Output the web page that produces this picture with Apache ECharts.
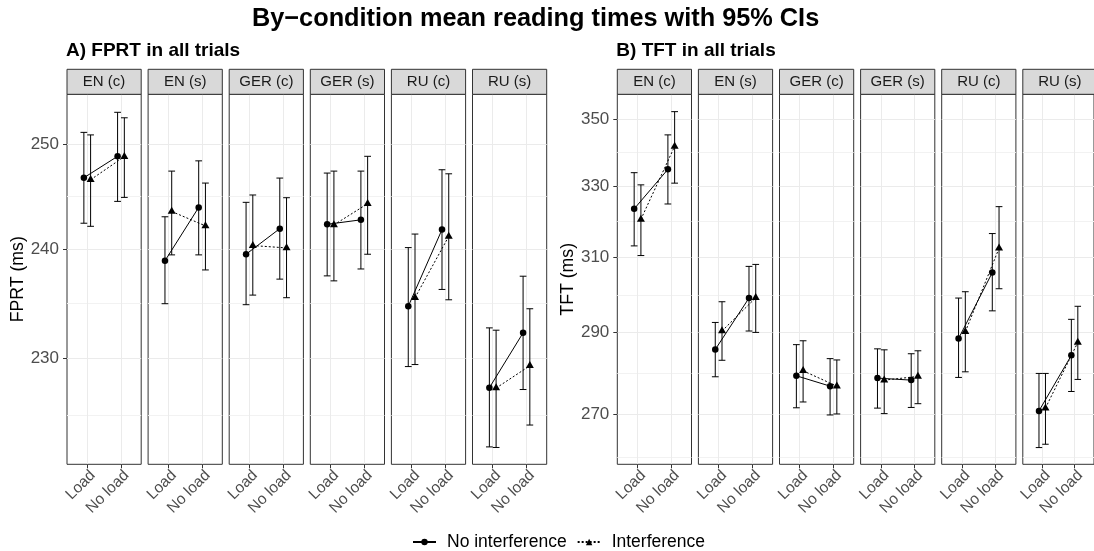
<!DOCTYPE html>
<html><head><meta charset="utf-8">
<script src="https://cdn.jsdelivr.net/npm/echarts@6/dist/echarts.min.js"></script>
<style>html,body{margin:0;padding:0;background:#fff}#c{width:1094px;height:551px}</style>
</head><body><div id="c"></div><script>
// ---------- data ----------
const facets = ['EN (c)', 'EN (s)', 'GER (c)', 'GER (s)', 'RU (c)', 'RU (s)'];
const loads = ['Load', 'No load'];
const seriesNames = ['No interference', 'Interference'];

// FPRT (ms): per facet [Load, No load]
const fprtNoIntMean = [[246.75, 248.82], [238.90, 243.92], [239.51, 241.91], [242.32, 242.74], [234.70, 241.82], [227.38, 232.29]];
const fprtNoIntLo   = [[242.42, 244.49], [234.94, 239.45], [234.85, 237.20], [237.50, 238.14], [229.26, 236.25], [222.20, 227.22]];
const fprtNoIntHi   = [[251.15, 253.12], [243.03, 248.38], [244.40, 246.72], [247.20, 247.39], [240.13, 247.52], [232.74, 237.47]];
const fprtIntMean   = [[246.56, 248.79], [243.53, 242.17], [240.32, 240.10], [242.26, 244.27], [235.49, 241.18], [227.35, 229.33]];
const fprtIntLo     = [[242.13, 244.87], [239.45, 238.05], [235.73, 235.49], [237.04, 239.51], [229.44, 235.30], [222.15, 224.10]];
const fprtIntHi     = [[250.90, 252.58], [247.39, 246.24], [245.10, 244.84], [247.39, 248.82], [241.40, 247.13], [232.53, 234.48]];

// TFT (ms)
const tftNoIntMean = [[323.40, 334.85], [285.76, 298.99], [279.22, 276.69], [278.65, 278.16], [288.53, 305.77], [270.73, 284.29]];
const tftNoIntLo   = [[313.03, 324.79], [278.98, 290.44], [271.47, 269.76], [271.39, 271.55], [278.82, 295.64], [262.13, 275.39]];
const tftNoIntHi   = [[333.86, 345.15], [292.64, 307.44], [286.98, 283.47], [285.92, 284.69], [298.99, 316.45], [279.80, 293.44]];
const tftIntMean   = [[320.43, 341.68], [290.44, 299.07], [280.45, 276.69], [278.16, 279.06], [290.26, 312.37], [271.39, 287.55]];
const tftIntLo     = [[310.38, 330.80], [283.06, 290.09], [272.86, 270.00], [270.08, 272.45], [280.20, 301.45], [262.90, 278.33]];
const tftIntHi     = [[330.30, 352.28], [298.02, 307.97], [287.96, 283.14], [285.67, 285.43], [300.66, 324.03], [279.80, 296.83]];

const fprtTicks = [230, 240, 250];
const tftTicks = [270, 290, 310, 330, 350];

// ---------- layout / style ----------
const FONT = 'Liberation Sans, Arial, sans-serif';
const PANEL_TOP = 94.3, PANEL_H = 370, PANEL_W = 74.2, STEP = 81.1, STRIP_H = 25;
const DODGE = 0.1;

const groups = [
  { axisName: 'FPRT (ms)', title: 'A) FPRT in all trials', x0: 67, min: 220.7, max: 254.9, ticks: fprtTicks,
    sets: [[fprtNoIntMean, fprtNoIntLo, fprtNoIntHi], [fprtIntMean, fprtIntLo, fprtIntHi]] },
  { axisName: 'TFT (ms)', title: 'B) TFT in all trials', x0: 617.3, min: 258.3, max: 357.7, ticks: tftTicks,
    sets: [[tftNoIntMean, tftNoIntLo, tftNoIntHi], [tftIntMean, tftIntLo, tftIntHi]] }
];

function minorOf(t) {
  const st = t[1] - t[0];
  const ext = [t[0] - st].concat(t, [t[t.length - 1] + st]);
  const out = [];
  for (let i = 0; i < ext.length - 1; i++) out.push(Math.sqrt(ext[i] * ext[i + 1]));
  return out;
}

const grids = [], xAxes = [], yAxes = [], lineSeries = [], barSeries = [], graphics = [];
const titles = [{
  text: 'By\u2212condition mean reading times with 95% CIs', left: 252, top: 7, padding: 0,
  textStyle: { fontSize: 25.3, fontWeight: 'bold', color: '#000', fontFamily: FONT, lineHeight: 25 }
}];

groups.forEach((grp, gi) => {
  titles.push({ text: grp.title, left: grp.x0 - 1, top: 41, padding: 0,
    textStyle: { fontSize: 19, fontWeight: 'bold', color: '#000', fontFamily: FONT, lineHeight: 19 } });
  const minor = minorOf(grp.ticks);
  facets.forEach((fac, fi) => {
    const g = grids.length;
    const left = grp.x0 + fi * STEP;
    grids.push({ left: left, top: PANEL_TOP, width: PANEL_W, height: PANEL_H, show: true,
      borderColor: '#333333', borderWidth: 1, backgroundColor: '#fff' });
    xAxes.push({ type: 'value', gridIndex: g, min: 0.4, max: 2.6,
      axisLine: { show: false },
      axisTick: { show: true, length: 4, customValues: [1, 2], lineStyle: { color: '#333', width: 1 } },
      axisLabel: { customValues: [1, 2], rotate: 45, margin: 3, fontSize: 15.5, color: '#4d4d4d', fontFamily: FONT,
        verticalAlign: 'top', formatter: v => loads[Math.round(v) - 1] },
      splitLine: { show: true, lineStyle: { color: '#ebebeb', width: 1 } } });
    const first = fi === 0;
    const yMajor = yAxes.length;
    yAxes.push({ type: 'log', gridIndex: g, min: grp.min, max: grp.max,
      axisLine: { show: false },
      axisTick: { show: first, length: 4, customValues: grp.ticks, lineStyle: { color: '#333', width: 1 } },
      axisLabel: { show: first, customValues: grp.ticks, margin: 8, fontSize: 17, color: '#4d4d4d', fontFamily: FONT },
      splitLine: { show: true, lineStyle: { color: '#ebebeb', width: 1 } },
      name: first ? grp.axisName : '', nameLocation: 'middle', nameGap: 40,
      nameTextStyle: { fontSize: 17.7, color: '#000', fontFamily: FONT } });
    yAxes.push({ type: 'log', gridIndex: g, min: grp.min, max: grp.max,
      axisLine: { show: false },
      axisTick: { show: false, customValues: minor },
      axisLabel: { show: false },
      splitLine: { show: true, lineStyle: { color: '#f2f2f2', width: 1 } } });

    // strip
    graphics.push({ type: 'rect', shape: { x: left, y: PANEL_TOP - STRIP_H, width: PANEL_W, height: STRIP_H },
      style: { fill: '#d9d9d9', stroke: '#333333', lineWidth: 1 }, z: 10 });
    graphics.push({ type: 'text', x: left + PANEL_W / 2, y: PANEL_TOP - STRIP_H / 2,
      style: { text: fac, fill: '#1a1a1a', font: '15px ' + FONT, align: 'center', verticalAlign: 'middle' }, z: 11 });

    grp.sets.forEach((set, si) => {
      const off = si === 0 ? -DODGE : DODGE;
      const [mean, lo, hi] = set;
      const pts = loads.map((l, li) => [li + 1 + off, mean[fi][li]]);
      const bars = loads.map((l, li) => [li + 1 + off, lo[fi][li], hi[fi][li]]);
      lineSeries.push({ type: 'line', name: seriesNames[si], xAxisIndex: g, yAxisIndex: yMajor, silent: true, z: 3,
        data: pts,
        symbol: si === 0 ? 'circle' : 'triangle',
        symbolSize: si === 0 ? 6.5 : [8, 7],
        symbolOffset: si === 0 ? [0, 0] : [0, '-17%'],
        itemStyle: { color: '#000' },
        lineStyle: { color: '#000', width: 1, type: si === 0 ? 'solid' : [2, 2] } });
      barSeries.push({ type: 'custom', name: seriesNames[si], xAxisIndex: g, yAxisIndex: yMajor, silent: true, z: 2,
        data: bars, encode: { x: 0, y: [1, 2] }, itemStyle: { color: '#000' },
        renderItem: (params, api) => {
          const x = api.value(0), a = api.value(1), b = api.value(2);
          const pa = api.coord([x, a]), pb = api.coord([x, b]);
          const l = api.coord([x - 0.1, a])[0], r = api.coord([x + 0.1, a])[0];
          const st = { stroke: '#000', lineWidth: 1 };
          return { type: 'group', children: [
            { type: 'line', shape: { x1: pa[0], y1: pa[1], x2: pb[0], y2: pb[1] }, style: st },
            { type: 'line', shape: { x1: l, y1: pa[1], x2: r, y2: pa[1] }, style: st },
            { type: 'line', shape: { x1: l, y1: pb[1], x2: r, y2: pb[1] }, style: st }
          ] };
        } });
    });
  });
});

const chart = echarts.init(document.getElementById('c'), null, { renderer: 'canvas' });
chart.setOption({
  animation: false,
  backgroundColor: '#fff',
  title: titles,
  grid: grids, xAxis: xAxes, yAxis: yAxes, series: lineSeries.concat(barSeries),
  graphic: graphics,
  legend: { data: seriesNames, left: 407, top: 528, itemWidth: 23, itemHeight: 8, itemGap: 10,
    textStyle: { fontSize: 17.5, color: '#000', fontFamily: FONT, padding: [0, 0, 0, 6] } }
});
</script></body></html>
